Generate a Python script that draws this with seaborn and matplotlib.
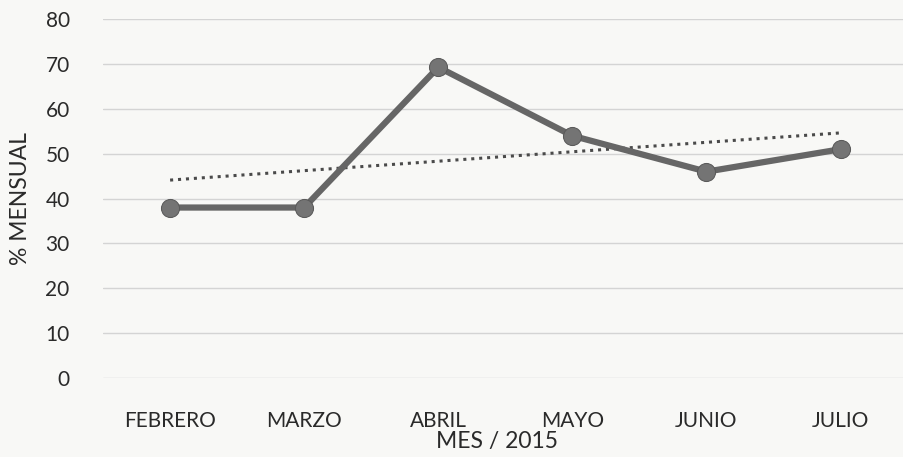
import numpy as np
import pandas as pd
import seaborn as sns
import matplotlib.pyplot as plt

# ── data ─────────────────────────────────────────────────
meses = ["FEBRERO", "MARZO", "ABRIL", "MAYO", "JUNIO", "JULIO"]
porcentaje = [38, 38, 69.3, 54, 46, 51]
yticks = [0, 10, 20, 30, 40, 50, 60, 70, 80]

df = pd.DataFrame({"mes": meses, "pct": porcentaje})
df["idx"] = np.arange(len(meses))

# linear trend (like the Excel "tendencia lineal")
coef = np.polyfit(df["idx"], df["pct"], 1)
df["trend"] = np.polyval(coef, df["idx"])

sns.set_theme(style="white")
plt.rcParams['font.family'] = ['Lato', 'DejaVu Sans']

fig = plt.figure(figsize=(9.04, 4.57), dpi=100, facecolor="#f8f8f6")
ax = fig.add_axes([0.114, 0.173, 0.89, 0.785])
ax.set_facecolor("#f8f8f6")

sns.lineplot(data=df, x="idx", y="trend", ax=ax, color="#4a4a4a",
             linestyle=(0, (1, 1.6)), linewidth=2.2)
sns.lineplot(data=df, x="idx", y="pct", ax=ax, color="#666666",
             linewidth=4.5, marker="o", markersize=13,
             markeredgecolor="#5a5a5a", markerfacecolor="#747474")

ax.set_xlim(-0.5, 5.5)
ax.set_ylim(0, 80)
ax.set_yticks(yticks)
ax.set_xticks(df["idx"])
ax.set_xticklabels(meses)
ax.yaxis.grid(True, color="#d4d4d4", linewidth=1)
ax.tick_params(axis="both", labelsize=15, colors="#2a2a2a", length=0)
ax.tick_params(axis="x", pad=24)
ax.tick_params(axis="y", pad=24)
for s in ax.spines.values():
    s.set_visible(False)

ax.set_xlabel("MES / 2015", fontsize=16.5, color="#2a2a2a", labelpad=0)
ax.xaxis.set_label_coords(0.49, -0.148)
ax.set_ylabel("% MENSUAL", fontsize=16.5, color="#2a2a2a")
ax.yaxis.set_label_coords(-0.09, 0.5)

fig.savefig("out.png", dpi=100, facecolor=fig.get_facecolor())
